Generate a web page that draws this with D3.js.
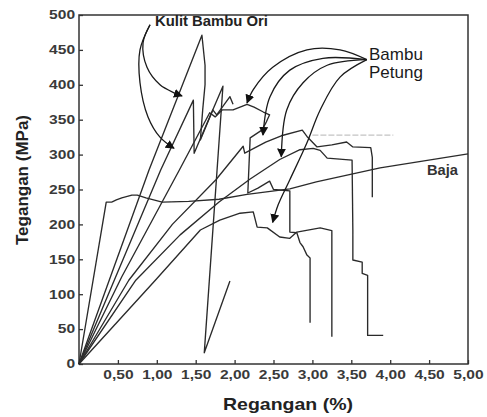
<!DOCTYPE html>
<html>
<head>
<meta charset="utf-8">
<script src="https://cdn.jsdelivr.net/npm/d3@7"></script>
<style>
  html, body { margin: 0; padding: 0; background: #fff; }
  svg { display: block; }
  text { font-family: "Liberation Sans", Arial, sans-serif; }
</style>
</head>
<body>
<svg id="chart" width="487" height="417"></svg>
<script>
// Stress (MPa) versus strain (%) for bamboo skin, petung bamboo and steel
const xTicks = [0.5, 1.0, 1.5, 2.0, 2.5, 3.0, 3.5, 4.0, 4.5, 5.0];
const yTicks = [0, 50, 100, 150, 200, 250, 300, 350, 400, 450, 500];

const baja = [[0,0],[0.35,232],[0.42,232],[0.48,235],[0.55,238],[0.68,242],[0.75,242],[0.86,238],[1.07,232],[1.41,233],[1.80,236],[2.16,243],[2.71,251],[3.05,261],[3.87,281],[5.0,301]];
const kulit1 = [[0,0],[0.9,278],[1.58,471],[1.62,428],[1.62,400],[1.59,364],[1.56,321],[1.72,364],[1.77,357],[1.94,383],[1.98,372]];
const kulit2 = [[0,0],[1.05,278],[1.47,378],[1.48,302],[1.85,398],[1.61,16],[1.94,119]];
const petungA = [[0,0],[0.55,125],[1.29,278],[1.68,360],[1.75,354],[1.84,364],[1.98,364],[2.16,372],[2.25,368],[2.37,361],[2.45,357],[2.40,345],[2.35,335],[2.20,324],[2.17,245],[2.30,252],[2.45,262],[2.50,250],[2.71,248],[2.71,189],[2.80,188],[2.84,174],[2.88,168],[2.93,156],[2.97,152],[2.97,59]];
const petungB = [[0,0],[0.64,120],[1.2,200],[1.76,264],[2.11,312],[2.13,302],[2.4,318],[2.6,327],[2.87,335],[2.93,326],[3.06,311],[3.25,314],[3.44,318],[3.52,311],[3.75,310],[3.77,296],[3.77,239]];
const petungC = [[0,0],[0.73,120],[1.3,185],[1.8,232],[2.2,265],[2.58,293],[2.84,307],[3.01,309],[3.10,306],[3.19,295],[3.51,292],[3.52,192],[3.52,149],[3.64,146],[3.64,130],[3.71,127],[3.71,41],[3.91,41]];
const petungD = [[0,0],[0.99,121],[1.56,192],[1.81,206],[2.07,216],[2.24,218],[2.29,196],[2.42,195],[2.58,182],[2.71,180],[2.80,189],[3.10,195],[3.25,191],[3.25,39]];
const levelLine = [[3.0,328],[4.04,328]];

// annotation arrows (strain, stress waypoints)
const kulitArrows = [
  [[0.913,486],[0.823,460],[0.874,425],[1.041,400],[1.234,388],[1.324,384]],
  [[0.913,486],[0.784,450],[0.784,403],[0.887,354],[1.041,325],[1.221,309]]
];
const petungArrows = [
  [[3.70,436],[3.355,450],[2.93,450],[2.49,425],[2.24,393],[2.16,374]],
  [[3.70,436],[3.136,438],[2.71,421],[2.455,383],[2.365,328]],
  [[3.70,436],[3.19,428],[2.88,403],[2.67,364],[2.60,297]],
  [[3.70,436],[3.355,411],[3.10,364],[2.93,317],[2.71,264],[2.56,228],[2.49,203]]
];

const svg = d3.select("#chart");
const x = d3.scaleLinear().domain([0, 5]).range([79, 468]);
const y = d3.scaleLinear().domain([0, 500]).range([364, 15]);

const defs = svg.append("defs");
defs.append("marker")
  .attr("id", "head").attr("viewBox", "0 0 10 10")
  .attr("refX", 9).attr("refY", 5)
  .attr("markerWidth", 9).attr("markerHeight", 9)
  .attr("markerUnits", "userSpaceOnUse")
  .attr("orient", "auto")
  .append("path").attr("d", "M0,0 L10,5 L0,10 Z").attr("fill", "#111");
defs.append("filter").attr("id", "soft")
  .append("feGaussianBlur").attr("stdDeviation", 0.35);

const line = d3.line().x(d => x(d[0])).y(d => y(d[1]));
const arrowLine = d3.line().x(d => x(d[0])).y(d => y(d[1])).curve(d3.curveCatmullRom.alpha(0.5));

const comma = d => d.toFixed(2).replace(".", ",");

// axes
const gx = svg.append("g").attr("transform", `translate(0,${y(0)})`)
  .call(d3.axisBottom(x).tickValues(xTicks).tickSize(-4).tickFormat(comma));
const gy = svg.append("g").attr("transform", `translate(${x(0)},0)`)
  .call(d3.axisLeft(y).tickValues(yTicks).tickSize(-4).tickFormat(d3.format("d")));

[gx, gy].forEach(g => {
  g.select(".domain").remove();
  g.selectAll(".tick line").attr("stroke", "#333").attr("stroke-width", 1.3);
  g.selectAll("text").attr("font-size", 12).attr("font-weight", "bold").attr("fill", "#3a3a3a");
});
gx.selectAll("text").attr("y", 6).attr("transform", "scale(1.3,1)");
gy.selectAll("text").attr("x", -3).attr("transform", "scale(1.3,1)");

// frame
svg.append("rect")
  .attr("x", x(0)).attr("y", y(500))
  .attr("width", x(5) - x(0)).attr("height", y(0) - y(500))
  .attr("fill", "none").attr("stroke", "#333").attr("stroke-width", 1.5);

// faint level trace
svg.append("path").datum(levelLine).attr("d", line)
  .attr("fill", "none").attr("stroke", "#c4c4c4").attr("stroke-width", 1.2)
  .attr("stroke-dasharray", "6,2");

// curves
const curves = svg.append("g").attr("filter", "url(#soft)");
[baja, kulit1, kulit2, petungA, petungB, petungC, petungD].forEach(c => {
  curves.append("path").datum(c).attr("d", line)
    .attr("fill", "none").attr("stroke", "#2b2b2b").attr("stroke-width", 1.35)
    .attr("stroke-linejoin", "round");
});

// arrows
const arrows = svg.append("g");
kulitArrows.concat(petungArrows).forEach(a => {
  arrows.append("path").datum(a).attr("d", arrowLine)
    .attr("fill", "none").attr("stroke", "#1a1a1a").attr("stroke-width", 1.3)
    .attr("marker-end", "url(#head)");
});

// labels
svg.append("text").attr("x", 155).attr("y", 26)
  .attr("font-size", 14).attr("font-weight", "bold").attr("fill", "#222")
  .attr("textLength", 113).attr("lengthAdjust", "spacingAndGlyphs")
  .text("Kulit Bambu Ori");
svg.append("text").attr("x", 369).attr("y", 60)
  .attr("font-size", 17).attr("fill", "#1a1a1a").text("Bambu");
svg.append("text").attr("x", 369).attr("y", 78)
  .attr("font-size", 17).attr("fill", "#1a1a1a").text("Petung");
svg.append("text").attr("x", 427).attr("y", 175)
  .attr("font-size", 14).attr("font-weight", "bold").attr("fill", "#333")
  .attr("textLength", 31).attr("lengthAdjust", "spacingAndGlyphs")
  .text("Baja");

// axis titles
svg.append("text").attr("x", 288).attr("y", 410)
  .attr("text-anchor", "middle").attr("font-size", 17).attr("font-weight", "bold").attr("fill", "#222")
  .attr("textLength", 130).attr("lengthAdjust", "spacingAndGlyphs")
  .text("Regangan (%)");
svg.append("text")
  .attr("transform", "translate(28,180) rotate(-90)")
  .attr("text-anchor", "middle").attr("font-size", 17).attr("font-weight", "bold").attr("fill", "#222")
  .text("Tegangan (MPa)");
</script>
</body>
</html>
